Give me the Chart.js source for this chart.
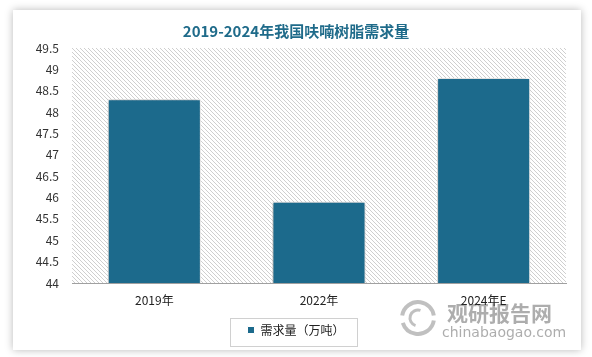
<!DOCTYPE html>
<html>
<head>
<meta charset="utf-8">
<script src="https://cdn.jsdelivr.net/npm/chart.js@4/dist/chart.umd.min.js"></script>
<style>
  html, body { margin: 0; padding: 0; background: #ffffff; }
  #wrap { position: relative; width: 592px; height: 357px; overflow: hidden; }
  #card { position: absolute; left: 13px; top: 10px; width: 568px; height: 340px; background: #fff;
          box-shadow: 0 0 8px rgba(0,0,0,0.28); }
  #c { position: absolute; left: 0; top: 0; }
</style>
</head>
<body>
<div id="wrap">
  <div id="card"></div>
  <canvas id="c" width="592" height="357"></canvas>
</div>
<script>
const titleText = '2019-2024年我国呋喃树脂需求量';
const categories = ['2019年', '2022年', '2024年E'];
const seriesName = '需求量（万吨）';
const demand = [48.3, 45.9, 48.8];
const yMin = 44;
const yMax = 49.5;
const yStep = 0.5;
const watermarkCn = '观研报告网';
const watermarkEn = 'chinabaogao.com';

const FONT = '"Noto Sans CJK SC", "Noto Sans", sans-serif';
const BAR = '#1c6a8c';

function makeHatch() {
  const p = document.createElement('canvas');
  p.width = 4; p.height = 4;
  const g = p.getContext('2d');
  g.fillStyle = '#ffffff';
  g.fillRect(0, 0, 4, 4);
  g.strokeStyle = '#cfcfcf';
  g.lineWidth = 1;
  g.beginPath();
  g.moveTo(-1, -1); g.lineTo(5, 5);
  g.moveTo(-1, 3); g.lineTo(1, 5);
  g.moveTo(3, -1); g.lineTo(5, 1);
  g.stroke();
  return p;
}

const bgPlugin = {
  id: 'bg',
  beforeDraw(chart) {
    const { ctx, chartArea: a } = chart;
    ctx.save();
    ctx.fillStyle = ctx.createPattern(makeHatch(), 'repeat');
    ctx.fillRect(a.left, a.top, a.right - a.left, a.bottom - a.top);
    // watermark
    ctx.globalAlpha = 0.7;
    ctx.fillStyle = '#8a8a8a';
    ctx.font = 'bold 21px ' + FONT;
    ctx.textBaseline = 'middle';
    ctx.textAlign = 'left';
    ctx.fillText(watermarkCn, 447, 313);
    ctx.font = '14px "DejaVu Sans", sans-serif';
    ctx.fillText(watermarkEn, 442, 333);
    ctx.strokeStyle = '#a5a5a5';
    ctx.lineWidth = 4;
    ctx.beginPath(); ctx.arc(418, 318, 16, Math.PI * 1.05, Math.PI * 1.95); ctx.stroke();
    ctx.beginPath(); ctx.arc(418, 318, 16, Math.PI * 0.05, Math.PI * 0.9); ctx.stroke();
    ctx.lineWidth = 3;
    ctx.beginPath(); ctx.arc(418, 318, 8, Math.PI * 0.6, Math.PI * 1.6); ctx.stroke();
    ctx.restore();
  },
  beforeDatasetsDraw(chart) {
    const ctx = chart.ctx;
    ctx.save();
    ctx.shadowColor = 'rgba(0,0,0,0.35)';
    ctx.shadowBlur = 5;
    ctx.shadowOffsetX = -1;
    ctx.shadowOffsetY = 0;
  },
  afterDatasetsDraw(chart) {
    chart.ctx.restore();
  },
  afterDraw(chart) {
    const lg = chart.legend;
    if (!lg || !lg.legendHitBoxes || !lg.legendHitBoxes.length) return;
    const hb = lg.legendHitBoxes[0];
    const ctx = chart.ctx;
    ctx.save();
    ctx.strokeStyle = '#d0d0d0';
    ctx.lineWidth = 1;
    ctx.strokeRect(Math.round(hb.left - 17) + 0.5, Math.round(lg.top) + 0.5, Math.round(hb.width + 30), Math.round(lg.bottom - lg.top));
    ctx.restore();
  }
};

new Chart(document.getElementById('c'), {
  type: 'bar',
  data: {
    labels: categories,
    datasets: [{
      label: seriesName,
      data: demand,
      backgroundColor: BAR,
      borderColor: '#ffffff',
      borderWidth: 1,
      borderSkipped: false,
      barPercentage: 0.565,
      categoryPercentage: 1.0
    }]
  },
  options: {
    responsive: false,
    animation: false,
    layout: { padding: { left: 0, right: 0, top: 0, bottom: 11 } },
    plugins: {
      title: {
        display: true,
        text: titleText,
        color: '#1f6b8a',
        font: { family: FONT, size: 15, weight: 'bold', lineHeight: 1.2 },
        padding: { top: 22, bottom: 8 }
      },
      legend: {
        position: 'bottom',
        labels: {
          color: '#222',
          font: { family: FONT, size: 12 },
          boxWidth: 7,
          boxHeight: 7,
          padding: 6
        }
      },
      tooltip: { enabled: false }
    },
    scales: {
      x: {
        grid: { display: false, drawTicks: false },
        border: { display: true, color: '#a0a0a0', width: 1 },
        ticks: { color: '#222', font: { family: FONT, size: 12 }, padding: 10 },
        afterFit(s) { s.height = 35; }
      },
      y: {
        min: yMin,
        max: yMax,
        grid: { display: false, drawTicks: false },
        border: { display: false },
        ticks: {
          stepSize: yStep,
          color: '#333',
          font: { family: FONT, size: 12 },
          padding: 13,
          callback: v => String(v)
        },
        afterFit(s) { s.width = 72; }
      },
      yRight: {
        position: 'right',
        min: yMin,
        max: yMax,
        grid: { display: false, drawTicks: false },
        border: { display: false },
        ticks: { display: false },
        afterFit(s) { s.width = 26; }
      }
    }
  },
  plugins: [bgPlugin]
});
</script>
</body>
</html>
